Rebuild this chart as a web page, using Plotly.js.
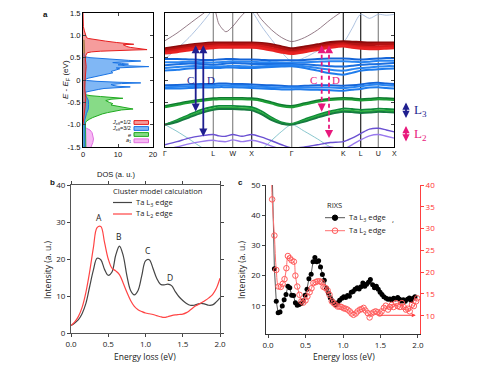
<!DOCTYPE html>
<html><head><meta charset="utf-8">
<script src="https://cdn.plot.ly/plotly-3.0.1.min.js"></script>
<style>html,body{margin:0;padding:0;background:#fff}#chart{width:500px;height:368px}</style>
</head><body><div id="chart"></div>
<script>
// ---------- Panel a : DOS ----------
const dosJ12E = [1.5,1.2,1.1,1.0,0.95,0.93,0.90,0.87,0.84,0.815,0.80,0.79,0.77,0.75,0.73,0.70,0.68,0.67,0.66,0.645,0.63,0.61,0.55,0.45,0.30,0.15,0.0,-0.2,-0.4,-0.6,-0.8,-1.0];
const dosJ12  = [0,0.1,0.4,0.7,1.0,1.5,3.5,6.5,9.5,12,14.5,11.5,12,12.5,13.5,16,18.3,14,9,5,2.5,1.2,0.8,0.7,0.9,0.7,0.6,0.5,0.8,0.6,0.3,0];
const dosJ32E = [0.60,0.52,0.50,0.48,0.46,0.44,0.425,0.41,0.39,0.37,0.355,0.34,0.32,0.30,0.285,0.27,0.25,0.22,0.19,0.16,0.13,0.10,0.07,0.04,0.02,0.0,-0.01,-0.03,-0.05,-0.065,-0.08,-0.10,-0.12,-0.14,-0.155,-0.17,-0.19,-0.21,-0.23,-0.25,-0.27,-0.35,-0.45,-0.55,-0.65,-0.75,-0.9,-1.1,-1.3,-1.5];
const dosJ32  = [0.3,0.5,2,5,9,13,16.5,10,8.5,11,13,10,12,18.8,14,9.5,10.5,9,8,8.5,6.5,4.5,3,1.5,0.8,0.6,1.0,4,10,16.5,11,8,8.5,10,13.5,9,6,4.5,3,1.5,0.8,0.8,1.5,1.6,1.5,1.0,0.5,0.5,0.5,0.5];
const dosEgE  = [0.9,0.6,0.3,0.0,-0.2,-0.30,-0.33,-0.35,-0.37,-0.39,-0.41,-0.43,-0.46,-0.50,-0.53,-0.56,-0.59,-0.62,-0.65,-0.67,-0.70,-0.73,-0.76,-0.80,-0.84,-0.88,-0.92,-0.96,-1.1,-1.3,-1.5];
const dosEg   = [0.3,0.5,0.6,0.5,0.5,0.5,0.8,2,5,8,11.4,8,6.5,7.5,8.5,8,10,12,14.3,11,8.5,7,5.5,4,2.8,1.8,1.0,0.7,0.7,0.8,0.8];
const dosA1E  = [-1.0,-1.05,-1.08,-1.12,-1.18,-1.25,-1.32,-1.40,-1.46,-1.5];
const dosA1   = [0,0.3,1.0,2.0,2.6,2.9,3.0,2.8,2.5,2.3];
const dosLabels = ['<i>J</i><sub>eff</sub>=1/2','<i>J</i><sub>eff</sub>=3/2','<i>e</i>','<i>a</i><sub>1</sub>'];

// ---------- Panel a : bands ----------
const kPath = [0,12,24,36,48.3,54,61,67.7,77,86.7,96.7,106.7,116.7,126.7,139.6,152.5,165.4,178.3,187,195.7,204.5,213.3,221.3,229.3];
const kTickVals = [0,48.3,67.7,86.7,126.7,178.3,195.7,213.3,229.3];
const kTickText = ['Γ','L','W','X','Γ','K','L','U','X'];
const bandsRed = [
 [0.70,0.74,0.78,0.81,0.83,0.83,0.83,0.83,0.83,0.83,0.82,0.79,0.74,0.70,0.74,0.79,0.84,0.86,0.85,0.84,0.83,0.83,0.83,0.83],
 [0.67,0.71,0.75,0.78,0.80,0.80,0.80,0.80,0.80,0.80,0.79,0.76,0.71,0.66,0.70,0.75,0.80,0.82,0.80,0.79,0.79,0.80,0.80,0.80],
 [0.63,0.67,0.71,0.74,0.76,0.77,0.77,0.76,0.76,0.77,0.75,0.71,0.66,0.62,0.66,0.71,0.76,0.79,0.76,0.74,0.73,0.74,0.75,0.76],
 [0.60,0.63,0.67,0.70,0.72,0.73,0.73,0.73,0.73,0.73,0.71,0.67,0.62,0.59,0.63,0.68,0.73,0.76,0.73,0.71,0.70,0.70,0.71,0.72]];
const bandsBlueUp = [
 [0.47,0.47,0.46,0.45,0.45,0.46,0.47,0.47,0.46,0.46,0.45,0.44,0.44,0.44,0.45,0.47,0.48,0.48,0.47,0.46,0.47,0.48,0.49,0.49],
 [0.40,0.40,0.41,0.40,0.39,0.40,0.41,0.42,0.41,0.41,0.40,0.40,0.39,0.39,0.40,0.41,0.42,0.42,0.41,0.40,0.41,0.43,0.43,0.43],
 [0.33,0.35,0.37,0.36,0.34,0.35,0.37,0.38,0.37,0.36,0.36,0.36,0.36,0.36,0.35,0.33,0.31,0.30,0.32,0.34,0.35,0.36,0.37,0.38],
 [0.27,0.29,0.31,0.31,0.30,0.30,0.31,0.32,0.31,0.30,0.31,0.32,0.33,0.33,0.31,0.27,0.23,0.21,0.24,0.27,0.28,0.30,0.31,0.31],
 [0.21,0.23,0.26,0.27,0.27,0.27,0.28,0.28,0.27,0.27,0.28,0.29,0.30,0.31,0.27,0.21,0.15,0.12,0.16,0.21,0.23,0.24,0.25,0.26]];
const bandsBlueLow = [
 [-0.12,-0.11,-0.10,-0.09,-0.09,-0.08,-0.08,-0.09,-0.09,-0.10,-0.11,-0.12,-0.13,-0.14,-0.13,-0.12,-0.12,-0.13,-0.12,-0.10,-0.07,-0.06,-0.08,-0.09],
 [-0.16,-0.15,-0.14,-0.13,-0.13,-0.12,-0.12,-0.13,-0.13,-0.14,-0.15,-0.16,-0.17,-0.17,-0.17,-0.17,-0.17,-0.18,-0.16,-0.14,-0.11,-0.10,-0.12,-0.13],
 [-0.19,-0.19,-0.18,-0.17,-0.17,-0.16,-0.16,-0.16,-0.17,-0.18,-0.19,-0.20,-0.21,-0.21,-0.21,-0.22,-0.23,-0.24,-0.22,-0.20,-0.17,-0.16,-0.18,-0.19]];
const bandsGreen = [
 [-0.58,-0.53,-0.48,-0.44,-0.41,-0.40,-0.40,-0.40,-0.40,-0.41,-0.44,-0.50,-0.56,-0.58,-0.52,-0.46,-0.42,-0.40,-0.41,-0.43,-0.42,-0.40,-0.41,-0.42],
 [-0.61,-0.56,-0.51,-0.47,-0.44,-0.43,-0.43,-0.43,-0.43,-0.44,-0.47,-0.53,-0.59,-0.61,-0.55,-0.49,-0.45,-0.43,-0.44,-0.46,-0.45,-0.43,-0.44,-0.45],
 [-1.00,-0.90,-0.78,-0.67,-0.60,-0.58,-0.58,-0.58,-0.59,-0.61,-0.70,-0.84,-0.95,-0.98,-0.88,-0.78,-0.70,-0.64,-0.65,-0.67,-0.66,-0.64,-0.65,-0.66],
 [-1.00,-0.92,-0.81,-0.71,-0.64,-0.62,-0.62,-0.62,-0.63,-0.65,-0.74,-0.87,-0.97,-0.99,-0.91,-0.81,-0.73,-0.68,-0.69,-0.71,-0.70,-0.68,-0.69,-0.70],
 [-1.00,-0.94,-0.84,-0.74,-0.67,-0.65,-0.65,-0.65,-0.66,-0.68,-0.77,-0.90,-0.98,-1.00,-0.93,-0.84,-0.76,-0.71,-0.72,-0.74,-0.73,-0.71,-0.72,-0.73]];
const bandsPurple = [
 [-1.45,-1.38,-1.30,-1.25,-1.22,-1.25,-1.26,-1.22,-1.26,-1.22,-1.28,-1.36,-1.45,-1.52,-1.50,-1.45,-1.40,-1.38,-1.30,-1.20,-1.10,-1.08,-1.12,-1.16],
 [-1.55,-1.50,-1.43,-1.38,-1.35,-1.37,-1.38,-1.34,-1.38,-1.35,-1.40,-1.48,-1.55,-1.58,-1.55,-1.52,-1.50,-1.55,-1.45,-1.34,-1.25,-1.22,-1.26,-1.30]];
const bandsThin = [
 [0.88,1.05,1.25,1.45,1.62,1.25,1.08,1.20,1.45,1.62,1.35,1.12,0.95,0.86,0.95,1.12,1.35,1.55,1.65,1.75,1.80,1.80,1.80,1.80],
 [0.47,0.70,0.95,1.25,1.60,1.80,1.90,1.90,1.80,1.55,1.20,0.90,0.62,0.42,0.50,0.65,0.78,0.85,1.15,1.47,1.38,1.47,1.45,1.47],
 [-1.00,-1.15,-1.32,-1.50,-1.65,-1.70,-1.70,-1.70,-1.70,-1.65,-1.55,-1.35,-1.15,-1.00,-1.15,-1.32,-1.50,-1.60,-1.60,-1.60,-1.60,-1.60,-1.60,-1.60]];

// ---------- Panel b : cluster model ----------
const clusterE = [0.00,0.05,0.10,0.15,0.20,0.25,0.30,0.35,0.40,0.45,0.50,0.55,0.60,0.65,0.70,0.75,0.80,0.85,0.90,0.95,1.00,1.05,1.10,1.15,1.20,1.25,1.30,1.35,1.40,1.45,1.50,1.55,1.60,1.65,1.70,1.75,1.80,1.85,1.90,1.95,2.00];
const clusterL3 = [2.0,2.7,3.6,5.3,8.0,12.5,17.0,20.2,19.8,17.2,15.6,16.5,21.0,23.5,21.0,15.5,11.5,10.3,11.5,15.5,19.5,19.8,17.5,14.8,13.2,13.0,13.2,12.8,11.2,9.8,8.8,8.0,7.5,7.5,7.8,8.0,7.8,7.5,7.6,8.4,9.5];
const clusterL2 = [2.0,3.0,4.5,7.0,11.0,16.5,23.0,28.5,28.8,24.5,20.0,17.5,16.8,15.8,13.5,11.0,8.8,7.2,6.3,5.8,5.4,5.2,5.0,4.7,4.4,4.2,4.4,4.7,4.9,5.0,5.1,5.5,6.2,7.0,7.6,8.2,8.8,9.5,10.4,12.0,14.8];
const peakNames = ['A','B','C','D'];
const peakE = [0.38,0.64,1.03,1.33];
const peakI = [31.3,26.0,22.2,14.9];

// ---------- Panel c : RIXS ----------
const rixsL3E = [0.058,0.085,0.110,0.135,0.160,0.190,0.215,0.240,0.265,0.290,0.315,0.340,0.365,0.390,0.415,0.440,0.470,0.495,0.520,0.545,0.575,0.600,0.625,0.650,0.675,0.700,0.725,0.750,0.780,0.805,0.830,0.855,0.880,0.905,0.930,0.955,0.985,1.010,1.035,1.060,1.085,1.110,1.135,1.160,1.190,1.215,1.240,1.265,1.290,1.315,1.340,1.365,1.395,1.420,1.445,1.470,1.495,1.520,1.545,1.575,1.600,1.625,1.650,1.675,1.700,1.730,1.755,1.780,1.805,1.830,1.860,1.885,1.910,1.935,1.960];
const rixsL3 = [52,22.3,11.5,7.7,8.0,10.0,12.0,13.8,16.5,16.0,13.5,13.4,11.0,10.2,10.5,10.8,11.7,13.5,15.5,19.0,20.5,24.6,26.0,24.6,24.9,22.9,20.4,18.5,15.8,14.3,12.7,11.7,11.0,10.4,11.0,11.9,12.5,13.0,12.8,13.4,13.2,14.5,14.8,15.5,16.0,15.6,16.3,17.6,16.5,17.2,17.8,18.7,17.0,16.0,16.5,15.5,14.5,13.8,13.0,12.5,12.2,12.3,12.0,12.5,12.3,12.8,12.2,11.5,12.0,11.5,12.2,12.6,11.8,12.5,13.0];
const rixsL2E = [0.045,0.055,0.085,0.110,0.140,0.170,0.195,0.220,0.245,0.265,0.290,0.315,0.345,0.365,0.390,0.420,0.445,0.470,0.500,0.525,0.555,0.580,0.605,0.635,0.660,0.690,0.715,0.740,0.765,0.795,0.820,0.850,0.875,0.900,0.930,0.955,0.980,1.010,1.035,1.060,1.090,1.115,1.140,1.170,1.195,1.225,1.250,1.275,1.300,1.330,1.355,1.380,1.410,1.435,1.460,1.490,1.515,1.545,1.570,1.600,1.625,1.650,1.675,1.705,1.730,1.760,1.785,1.810,1.840,1.865,1.890,1.920,1.945,1.975,1.990];
const rixsL2 = [45,36.7,28.4,20.5,16.7,16.6,17.3,18.4,20.9,23.7,23.2,22.7,22.4,19.2,16.7,14.8,13.3,13.0,13.5,14.4,15.4,16.3,17.5,17.7,17.9,17.9,17.7,16.6,16.4,15.8,14.8,13.3,12.9,12.5,12.1,12.1,12.0,11.7,11.6,11.4,11.0,10.5,10.2,10.5,11.0,11.4,11.5,11.8,11.2,10.6,9.6,10.5,10.8,11.0,10.8,10.5,11.0,11.8,12.3,11.4,12.0,12.5,12.0,12.9,12.2,12.0,12.9,12.0,11.4,11.6,11.0,12.5,12.2,13.3,14.0];

// ---------- helpers ----------
const W = 500, H = 368;
const px = x => x / W, py = y => 1 - y / H;
const SANS = 'Liberation Sans, Arial, sans-serif';
const OPEN = 'Open Sans, Liberation Sans, sans-serif';
const SERIF = 'Liberation Serif, Times New Roman, serif';
const NAVY = '#1f1f8f', PINK = '#e8187c';

const traces = [];
[[dosA1E,dosA1,'rgba(244,160,240,0.75)','#e070e0'],
 [dosEgE,dosEg,'rgba(70,200,70,0.65)','#1faa1f'],
 [dosJ32E,dosJ32,'rgba(60,145,240,0.65)','#1b74e4'],
 [dosJ12E,dosJ12,'rgba(240,90,90,0.6)','#e61e1e']].forEach(([e,d,fc,lc]) => {
  traces.push({x:d, y:e, xaxis:'x', yaxis:'y', type:'scatter', mode:'lines', fill:'tozerox',
    fillcolor:fc, line:{color:lc, width:1}, hoverinfo:'skip', showlegend:false});
});
const addBands = (set, colors, width) => set.forEach((b,i) => traces.push({x:kPath, y:b, xaxis:'x2', yaxis:'y2',
  type:'scatter', mode:'lines', line:{color:colors[i % colors.length], width:width, shape:'spline', smoothing:0.8},
  hoverinfo:'skip', showlegend:false}));
addBands(bandsThin, ['#7a5a6a','#9ab4d8','#6ab8c0'], 0.8);
addBands(bandsPurple, ['#6a50d2','#9a7aee'], 1.4);
addBands(bandsGreen, ['#0e7a30','#1c9c34','#0f8a3a','#2aae3e','#157a40'], 1.9);
addBands(bandsBlueLow, ['#1565d8','#2a86f2','#1f7cec'], 2.0);
addBands(bandsBlueUp, ['#1565d8','#2a86f2','#1a6fe0','#2a86f2','#1f7cec'], 2.0);
addBands(bandsRed, ['#8c0b0b','#b31212','#d41a1a','#e82222'], 2.8);

traces.push({x:clusterE, y:clusterL3, xaxis:'x3', yaxis:'y3', type:'scatter', mode:'lines',
  line:{color:'#454545', width:1.2, shape:'spline'}, showlegend:false, hoverinfo:'skip'});
traces.push({x:clusterE, y:clusterL2, xaxis:'x3', yaxis:'y3', type:'scatter', mode:'lines',
  line:{color:'#ff4444', width:1.2, shape:'spline'}, showlegend:false, hoverinfo:'skip'});

traces.push({x:rixsL2E, y:rixsL2, xaxis:'x4', yaxis:'y5', type:'scatter', mode:'lines+markers',
  line:{color:'#ff7070', width:1, shape:'spline'}, marker:{symbol:'circle-open', size:5.5, color:'#ff5a5a', line:{width:1}},
  showlegend:false, hoverinfo:'skip'});
traces.push({x:rixsL3E, y:rixsL3, xaxis:'x4', yaxis:'y4', type:'scatter', mode:'lines+markers',
  line:{color:'#555', width:1}, marker:{symbol:'circle', size:5, color:'#000'},
  showlegend:false, hoverinfo:'skip'});

const shapes = [];
const ann = [];
const txt = (x, y, text, o = {}) => ann.push(Object.assign({xref:'paper', yref:'paper', x:px(x), y:py(y), text:text,
  showarrow:false, font:{family:SANS, size:8, color:'#111'}, xanchor:'center', yanchor:'middle', borderpad:0}, o));

// peak labels of panel b, placed from the data arrays
peakNames.forEach((n,i) => ann.push({xref:'x3', yref:'y3', x:peakE[i], y:peakI[i], text:n, showarrow:false,
  font:{family:OPEN, size:8.5, color:'#222222'}}));

const vlineColors = ['#888','#888','#222','#888','#222','#222','#888'];
kTickVals.slice(1, -1).forEach((k,i) => shapes.push({type:'line', xref:'x2', yref:'y2 domain', x0:k, x1:k, y0:0, y1:1,
  line:{color:vlineColors[i], width:1.2}, layer:'below'}));

const legFill = ['rgba(240,90,90,0.6)','rgba(60,145,240,0.65)','rgba(70,200,70,0.65)','rgba(244,160,240,0.75)'];
const legLine = ['#e61e1e','#1b74e4','#1faa1f','#e070e0'];
const legY = [122.5,128.5,134.5,140.8];
dosLabels.forEach((lab,i) => {
  shapes.push({type:'rect', xref:'paper', yref:'paper', x0:px(134), x1:px(148.5), y0:py(legY[i]+1.9), y1:py(legY[i]-1.9),
    fillcolor:legFill[i], line:{color:legLine[i], width:1}});
  txt(132, legY[i], lab, {xanchor:'right', font:{family:SANS, size:5.5, color:'#111'}});
});

const dArrow = (k, e0, e1, color) => ann.push({xref:'x2', yref:'y2', axref:'x2', ayref:'y2', x:k, y:e0, ax:k, ay:e1,
  text:'', showarrow:true, arrowhead:2, startarrowhead:2, arrowside:'end+start', arrowsize:0.9, startarrowsize:0.9, arrowwidth:1.8, arrowcolor:color});
dArrow(30.7, 0.78, -0.74, NAVY);
dArrow(38.3, 0.78, -1.30, NAVY);
[[156.7,0.78,-0.71],[164,0.78,-1.30]].forEach(([k,e0,e1]) => {
  shapes.push({type:'line', xref:'x2', yref:'y2', x0:k, x1:k, y0:e0-0.06, y1:e1+0.06, line:{color:PINK, width:1.8, dash:'4px,3px'}});
  ann.push({xref:'x2', yref:'y2', axref:'x2', ayref:'y2', x:k, y:e0, ax:k, ay:e0-0.1, text:'', showarrow:true, arrowhead:2, arrowsize:0.9, arrowwidth:1.8, arrowcolor:PINK});
  ann.push({xref:'x2', yref:'y2', axref:'x2', ayref:'y2', x:k, y:e1, ax:k, ay:e1+0.1, text:'', showarrow:true, arrowhead:2, arrowsize:0.9, arrowwidth:1.8, arrowcolor:PINK});
});
[[25.5,'C',NAVY],[46,'D',NAVY],[148.5,'C',PINK],[170.5,'D',PINK]].forEach(([k,t,c]) =>
  ann.push({xref:'x2', yref:'y2', x:k, y:0.0, text:t, showarrow:false, font:{family:SERIF, size:11, color:c}}));

ann.push({xref:'paper', yref:'paper', x:px(406), y:py(102.5), ax:0, ay:17, text:'', showarrow:true, arrowhead:2, startarrowhead:2,
  arrowside:'end+start', arrowsize:0.8, startarrowsize:0.8, arrowwidth:1.8, arrowcolor:NAVY});
ann.push({xref:'paper', yref:'paper', x:px(406), y:py(126), ax:0, ay:17, text:'', showarrow:true, arrowhead:2, startarrowhead:2,
  arrowside:'end+start', arrowsize:0.8, startarrowsize:0.8, arrowwidth:1.8, arrowcolor:PINK});
txt(413, 111, 'L<sub>3</sub>', {xanchor:'left', font:{family:SERIF, size:13, color:NAVY}});
txt(413, 134.5, 'L<sub>2</sub>', {xanchor:'left', font:{family:SERIF, size:13, color:PINK}});

txt(45, 14, '<b>a</b>', {font:{family:SANS, size:8, color:'#111'}});
txt(52, 183, '<b>b</b>', {font:{family:SANS, size:8, color:'#111'}});
txt(240, 183, '<b>c</b>', {font:{family:SANS, size:8, color:'#111'}});
txt(66, 80, '<i>E</i> - <i>E</i><sub>F</sub> (eV)', {textangle:-90, font:{family:SANS, size:8, color:'#111'}});
txt(116, 174, 'DOS (a. u.)', {font:{family:SANS, size:7.5, color:'#111'}});
txt(47, 270, 'Intensity (a. u.)', {textangle:-90, font:{family:OPEN, size:8.5, color:'#222'}});
txt(145, 356, 'Energy loss (eV)', {font:{family:OPEN, size:8.5, color:'#222'}});
txt(241, 270, 'Intensity (a. u.)', {textangle:-90, font:{family:OPEN, size:8.5, color:'#222'}});
txt(344, 356, 'Energy loss (eV)', {font:{family:OPEN, size:8.5, color:'#222'}});

txt(112, 190.8, 'Cluster model calculation', {xanchor:'left', font:{family:OPEN, size:7.6, color:'#222'}});
shapes.push({type:'line', xref:'paper', yref:'paper', x0:px(113), x1:px(132), y0:py(202.5), y1:py(202.5), line:{color:'#454545', width:1.2}});
shapes.push({type:'line', xref:'paper', yref:'paper', x0:px(113), x1:px(132), y0:py(214), y1:py(214), line:{color:'#ff4444', width:1.2}});
txt(135, 202.5, 'Ta L<sub>3</sub> edge', {xanchor:'left', font:{family:OPEN, size:7.6, color:'#222'}});
txt(135, 214, 'Ta L<sub>2</sub> edge', {xanchor:'left', font:{family:OPEN, size:7.6, color:'#222'}});

txt(326, 205, 'RIXS', {xanchor:'left', font:{family:OPEN, size:7.5, color:'#222'}});
shapes.push({type:'line', xref:'paper', yref:'paper', x0:px(325), x1:px(345), y0:py(217.7), y1:py(217.7), line:{color:'#555', width:1}});
shapes.push({type:'circle', xref:'paper', yref:'paper', x0:px(332.3), x1:px(337.7), y0:py(220.4), y1:py(215), fillcolor:'#000', line:{color:'#000', width:1}});
shapes.push({type:'line', xref:'paper', yref:'paper', x0:px(325), x1:px(345), y0:py(230.7), y1:py(230.7), line:{color:'#ff7070', width:1}});
shapes.push({type:'circle', xref:'paper', yref:'paper', x0:px(332.2), x1:px(337.8), y0:py(233.5), y1:py(227.9), fillcolor:'rgba(0,0,0,0)', line:{color:'#ff5a5a', width:1}});
txt(348, 217.7, 'Ta L<sub>3</sub> edge', {xanchor:'left', font:{family:OPEN, size:7.6, color:'#222'}});
txt(348, 230.7, 'Ta L<sub>2</sub> edge', {xanchor:'left', font:{family:OPEN, size:7.6, color:'#222'}});
txt(393, 218, ',', {font:{family:OPEN, size:8, color:'#222'}});
ann.push({xref:'x4', yref:'y5', axref:'x4', ayref:'y5', x:1.97, y:10.1, ax:1.45, ay:10.1, text:'', showarrow:true,
  arrowhead:2, arrowsize:0.8, arrowwidth:1, arrowcolor:'#ff4040'});

const tickA = {family:SANS, size:7.5, color:'#111'};
const tickB = {family:OPEN, size:8, color:'#222'};
const layout = {
  width:W, height:H, margin:{l:0,r:0,t:0,b:0}, paper_bgcolor:'#fff', plot_bgcolor:'#fff', showlegend:false,
  xaxis:{domain:[px(83),px(153)], range:[0,20], tickvals:[0,10,20], ticks:'inside', ticklen:3, mirror:'ticks',
    showline:true, linecolor:'#000', linewidth:1, showgrid:false, zeroline:false, tickfont:tickA, anchor:'y'},
  yaxis:{domain:[py(147),py(13)], range:[-1.5,1.5], tickvals:[-1.5,-1,-0.5,0,0.5,1,1.5],
    ticktext:['-1.5','-1.0','-0.5','0','0.5','1.0','1.5'], ticks:'inside', ticklen:3, mirror:'ticks',
    showline:true, linecolor:'#000', linewidth:1, showgrid:false, zeroline:false, tickfont:tickA, anchor:'x'},
  xaxis2:{domain:[px(165),px(394.3)], range:[0,229.3], tickvals:kTickVals, ticktext:kTickText, ticks:'',
    showline:true, mirror:true, linecolor:'#000', linewidth:1, showgrid:false, zeroline:false,
    tickfont:{family:SANS, size:7, color:'#111'}, anchor:'y2'},
  yaxis2:{domain:[py(147),py(13)], range:[-1.5,1.5], dtick:0.5, ticks:'inside', ticklen:3, mirror:'ticks',
    showticklabels:false, showline:true, linecolor:'#000', linewidth:1, showgrid:false, zeroline:false, anchor:'x2'},
  xaxis3:{domain:[px(71),px(220)], range:[0,2], dtick:0.5, tickformat:'.1f', ticks:'outside', ticklen:3, mirror:'ticks',
    showline:true, linecolor:'#555', linewidth:1, showgrid:false, zeroline:false, tickfont:tickB, anchor:'y3'},
  yaxis3:{domain:[py(333),py(185)], range:[0,40], dtick:10, ticks:'outside', ticklen:3, mirror:'ticks',
    showline:true, linecolor:'#555', linewidth:1, showgrid:false, zeroline:false, tickfont:tickB, anchor:'x3'},
  xaxis4:{domain:[px(266),px(420)], range:[-0.027,2.027], dtick:0.5, tickformat:'.1f', ticks:'outside', ticklen:3,
    showline:true, linecolor:'#333', linewidth:1, showgrid:false, zeroline:false, tickfont:tickB, anchor:'y4'},
  yaxis4:{domain:[py(334),py(185)], range:[0.7,50], dtick:10, tick0:0, ticks:'outside', ticklen:3,
    showline:true, linecolor:'#333', linewidth:1, showgrid:false, zeroline:false, tickfont:tickB, anchor:'x4'},
  yaxis5:{overlaying:'y4', side:'right', anchor:'x4', range:[5.8,40], tickvals:[10,15,20,25,30,35,40], ticks:'outside', ticklen:3,
    showline:true, linecolor:'#ff4040', tickcolor:'#ff4040', linewidth:1, showgrid:false, zeroline:false,
    tickfont:{family:OPEN, size:8, color:'#ff3030'}},
  shapes:shapes, annotations:ann
};
Plotly.newPlot('chart', traces, layout, {staticPlot:true, displayModeBar:false});
</script></body></html>
